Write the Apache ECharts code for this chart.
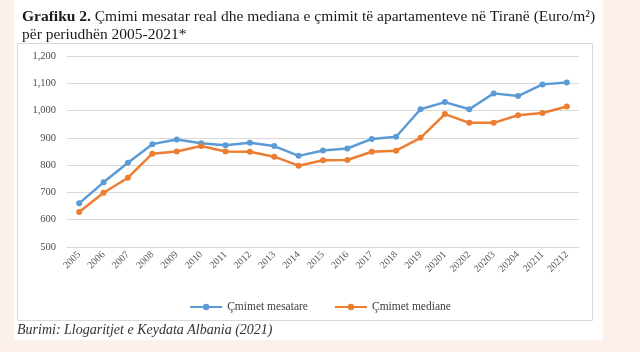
<!DOCTYPE html>
<html>
<head>
<meta charset="utf-8">
<script src="https://cdn.jsdelivr.net/npm/echarts@6/dist/echarts.min.js"></script>
<style>
  html, body { margin: 0; padding: 0; background: #fbf1ea; }
  #chart { width: 640px; height: 352px; }
</style>
</head>
<body>
<div id="chart"></div>
<script>
// periudhat (boshti x)
const periods = ['2005', '2006', '2007', '2008', '2009', '2010', '2011', '2012', '2013', '2014',
    '2015', '2016', '2017', '2018', '2019', '20201', '20202', '20203', '20204', '20211', '20212'];

// çmimi mesatar real (Euro/m2)
const mesatare = [660, 737, 809, 877, 894, 880, 873, 882, 870, 834,
    854, 861, 896, 904, 1005, 1031, 1005, 1063, 1053, 1096, 1103];

// çmimi median (Euro/m2)
const mediane = [628, 699, 754, 842, 850, 870, 850, 849, 831, 798,
    818, 819, 849, 853, 900, 987, 955, 955, 983, 991, 1015];

const yMin = 500, yMax = 1200, yStep = 100;

const serif = '"Liberation Serif", "DejaVu Serif", serif';

var myChart = echarts.init(document.getElementById('chart'));

let option = {
    backgroundColor: '#fbf1ea',
    animation: false,
    textStyle: { fontFamily: serif },
    graphic: [
        // faqja e bardhe
        { type: 'rect', z: -20, shape: { x: 14, y: 0, width: 589, height: 340 }, style: { fill: '#ffffff' } },
        // kutia e grafikut
        { type: 'rect', z: -10, shape: { x: 17.5, y: 43.5, width: 575, height: 277 },
          style: { fill: '#ffffff', stroke: '#d9d9d9', lineWidth: 1 } },
        // burimi
        { type: 'text', left: 17, top: 323, style: {
            text: 'Burimi: Llogaritjet e Keydata Albania (2021)',
            font: 'italic 14px ' + serif, fill: '#333333' } }
    ],
    title: {
        left: 17, top: 3,
        itemGap: 0,
        text: '{b|Grafiku 2.} Çmimi mesatar real dhe mediana e çmimit të apartamenteve në Tiranë (Euro/m²)\npër periudhën 2005-2021*',
        textStyle: {
            fontFamily: serif, fontSize: 15.5, fontWeight: 'normal', color: '#1a1a1a', lineHeight: 18,
            rich: { b: { fontFamily: serif, fontSize: 15.5, fontWeight: 'bold', color: '#1a1a1a' } }
        }
    },
    legend: {
        left: 'center', top: 296,
        itemWidth: 32, itemHeight: 8, itemGap: 26,
        textStyle: { fontFamily: serif, fontSize: 11.5, color: '#404040' },
        data: ['Çmimet mesatare', 'Çmimet mediane']
    },
    grid: { left: 67, right: 61, top: 56, bottom: 105 },
    xAxis: {
        type: 'category',
        data: periods,
        boundaryGap: true,
        axisLine: { lineStyle: { color: '#d9d9d9' } },
        axisTick: { show: false },
        axisLabel: { rotate: 45, margin: 6, fontFamily: serif, fontSize: 10, color: '#595959', interval: 0 }
    },
    yAxis: {
        type: 'value',
        min: yMin, max: yMax, interval: yStep,
        axisLine: { show: false },
        axisTick: { show: false },
        splitLine: { lineStyle: { color: '#d9d9d9' } },
        axisLabel: {
            fontFamily: serif, fontSize: 10.5, color: '#4d4d4d', margin: 11,
            formatter: (v) => v.toLocaleString('en-US')
        }
    },
    series: [
        {
            name: 'Çmimet mesatare',
            type: 'line',
            data: mesatare,
            color: '#5b9bd5',
            symbol: 'circle', symbolSize: 6,
            lineStyle: { width: 2.5 }
        },
        {
            name: 'Çmimet mediane',
            type: 'line',
            data: mediane,
            color: '#ed7d31',
            symbol: 'circle', symbolSize: 6,
            lineStyle: { width: 2.5 }
        }
    ]
};

myChart.setOption(option);
</script>
</body>
</html>
